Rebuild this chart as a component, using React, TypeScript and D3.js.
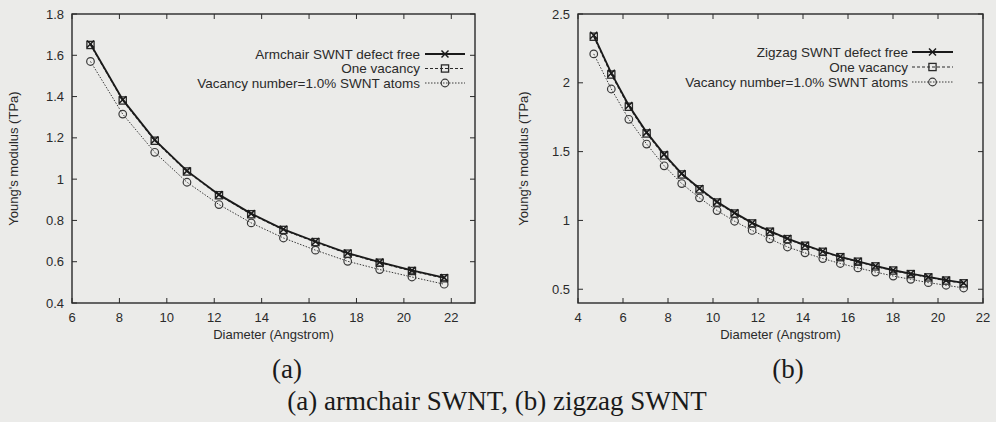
import React from "react";
import * as d3 from "d3";

// ---------- data ----------
const armchairDiameter = [6.78, 8.14, 9.49, 10.85, 12.2, 13.56, 14.92, 16.27, 17.63, 18.98, 20.34, 21.7];
const armchairDefectFree = [1.655, 1.385, 1.19, 1.04, 0.925, 0.833, 0.757, 0.698, 0.642, 0.598, 0.558, 0.523];
const armchairOneVacancy = [1.65, 1.381, 1.186, 1.037, 0.922, 0.83, 0.754, 0.695, 0.639, 0.595, 0.555, 0.52];
const armchairOnePercent = [1.57, 1.315, 1.13, 0.985, 0.877, 0.788, 0.715, 0.656, 0.602, 0.562, 0.526, 0.491];

const zigzagDiameter = [4.7, 5.48, 6.26, 7.05, 7.83, 8.61, 9.4, 10.18, 10.96, 11.74, 12.53, 13.31, 14.09, 14.88, 15.66, 16.44, 17.22, 18.01, 18.79, 19.57, 20.36, 21.14];
const zigzagDefectFree = [2.345, 2.07, 1.835, 1.64, 1.48, 1.34, 1.232, 1.135, 1.055, 0.982, 0.922, 0.868, 0.82, 0.776, 0.736, 0.703, 0.669, 0.638, 0.613, 0.589, 0.566, 0.546];
const zigzagOneVacancy = [2.335, 2.06, 1.826, 1.632, 1.472, 1.334, 1.226, 1.13, 1.05, 0.978, 0.918, 0.864, 0.816, 0.772, 0.733, 0.7, 0.666, 0.636, 0.61, 0.586, 0.563, 0.543];
const zigzagOnePercent = [2.21, 1.955, 1.735, 1.555, 1.397, 1.268, 1.164, 1.072, 0.994, 0.927, 0.866, 0.807, 0.764, 0.723, 0.687, 0.655, 0.625, 0.596, 0.572, 0.548, 0.529, 0.509];

const armchairXTicks = [6, 8, 10, 12, 14, 16, 18, 20, 22];
const armchairYTicks = [0.4, 0.6, 0.8, 1, 1.2, 1.4, 1.6, 1.8];
const zigzagXTicks = [4, 6, 8, 10, 12, 14, 16, 18, 20, 22];
const zigzagYTicks = [0.5, 1, 1.5, 2, 2.5];

const armchairLegend = ["Armchair SWNT defect free", "One vacancy", "Vacancy number=1.0% SWNT atoms"];
const zigzagLegend = ["Zigzag SWNT defect free", "One vacancy", "Vacancy number=1.0% SWNT atoms"];

const xTitle = "Diameter (Angstrom)";
const yTitle = "Young's modulus (TPa)";
const caption = "(a) armchair SWNT, (b) zigzag SWNT";

const SANS = "'Liberation Sans', Arial, sans-serif";
const SERIF = "'Liberation Serif', 'Times New Roman', serif";
const INK = "#2a2a2a";

type Style = { width: number; dash?: string; marker: "cross" | "square" | "circle"; color: string };
const styles: Style[] = [
  { width: 1.8, marker: "cross", color: "#1a1a1a" },
  { width: 1.1, dash: "3,2", marker: "square", color: "#2a2a2a" },
  { width: 1.0, dash: "1.5,1.5", marker: "circle", color: "#3a3a3a" },
];

function Marker({ x, y, kind, color }: { x: number; y: number; kind: string; color: string }) {
  if (kind === "cross") {
    const s = 3.5;
    return (
      <g stroke={color} strokeWidth={1.5}>
        <line x1={x - s} y1={y - s} x2={x + s} y2={y + s} />
        <line x1={x - s} y1={y + s} x2={x + s} y2={y - s} />
      </g>
    );
  }
  if (kind === "square") {
    return <rect x={x - 3.6} y={y - 3.6} width={7.2} height={7.2} fill="none" stroke={color} strokeWidth={1.3} />;
  }
  return <circle cx={x} cy={y} r={3.8} fill="none" stroke={color} strokeWidth={1.2} />;
}

type PanelProps = {
  x0: number; x1: number; y0: number; y1: number;
  xDomain: [number, number]; yDomain: [number, number];
  xTicks: number[]; yTicks: number[];
  xs: number[]; series: number[][];
  legend: string[]; legTextX: number; legLine: [number, number]; legY: number[];
  yTitleX: number;
};

function Panel(p: PanelProps) {
  const xs = d3.scaleLinear().domain(p.xDomain).range([p.x0, p.x1]);
  const ys = d3.scaleLinear().domain(p.yDomain).range([p.y1, p.y0]);
  const tl = 5;
  return (
    <g>
      {/* ticks */}
      <g stroke={INK} strokeWidth={1}>
        {p.xTicks.map((t) => (
          <g key={"xt" + t}>
            <line x1={xs(t)} x2={xs(t)} y1={p.y1} y2={p.y1 - tl} />
            <line x1={xs(t)} x2={xs(t)} y1={p.y0} y2={p.y0 + tl} />
          </g>
        ))}
        {p.yTicks.map((t) => (
          <g key={"yt" + t}>
            <line x1={p.x0} x2={p.x0 + tl} y1={ys(t)} y2={ys(t)} />
            <line x1={p.x1} x2={p.x1 - tl} y1={ys(t)} y2={ys(t)} />
          </g>
        ))}
      </g>
      <g fontFamily={SANS} fontSize={13} fill={INK}>
        {p.xTicks.map((t) => (
          <text key={"xl" + t} x={xs(t)} y={p.y1 + 19} textAnchor="middle">{String(t)}</text>
        ))}
        {p.yTicks.map((t) => (
          <text key={"yl" + t} x={p.x0 - 8} y={ys(t) + 4.5} textAnchor="end">{String(t)}</text>
        ))}
        <text x={(p.x0 + p.x1) / 2} y={p.y1 + 36} textAnchor="middle">{xTitle}</text>
        <text transform={`translate(${p.yTitleX},${(p.y0 + p.y1) / 2}) rotate(-90)`} textAnchor="middle">{yTitle}</text>
      </g>
      {/* series */}
      {[...p.series].reverse().map((vals, ri) => {
        const i = p.series.length - 1 - ri;
        const st = styles[i];
        const line = d3.line<number>().x((_, k) => xs(p.xs[k])).y((v) => ys(v));
        return (
          <g key={"s" + i}>
            <path d={line(vals) || ""} fill="none" stroke={st.color} strokeWidth={st.width} strokeDasharray={st.dash} />
            {vals.map((v, k) => (
              <Marker key={k} x={xs(p.xs[k])} y={ys(v)} kind={st.marker} color={st.color} />
            ))}
          </g>
        );
      })}
      {/* legend */}
      <g fontFamily={SANS} fontSize={13.5} fill={INK}>
        {p.legend.map((label, i) => {
          const st = styles[i];
          const cy = p.legY[i];
          const mx = (p.legLine[0] + p.legLine[1]) / 2;
          return (
            <g key={"lg" + i}>
              <text x={p.legTextX} y={cy + 4.8} textAnchor="end">{label}</text>
              <line x1={p.legLine[0]} x2={p.legLine[1]} y1={cy} y2={cy} stroke={st.color} strokeWidth={st.width} strokeDasharray={st.dash} />
              <Marker x={mx} y={cy} kind={st.marker} color={st.color} />
            </g>
          );
        })}
      </g>
      {/* frame */}
      <rect x={p.x0} y={p.y0} width={p.x1 - p.x0} height={p.y1 - p.y0} fill="none" stroke={INK} strokeWidth={1.4} />
    </g>
  );
}

export default function App() {
  return (
    <svg width={996} height={422} style={{ position: "absolute", left: 0, top: 0, display: "block" }}>
      <rect x={0} y={0} width={996} height={422} fill="#ebebe9" />
      <Panel
        x0={72} x1={475} y0={14} y1={303}
        xDomain={[6, 23]} yDomain={[0.4, 1.8]}
        xTicks={armchairXTicks} yTicks={armchairYTicks}
        xs={armchairDiameter}
        series={[armchairDefectFree, armchairOneVacancy, armchairOnePercent]}
        legend={armchairLegend} legTextX={420} legLine={[425, 465]} legY={[54, 68.5, 83]}
        yTitleX={18}
      />
      <Panel
        x0={578} x1={983} y0={14} y1={303}
        xDomain={[4, 22]} yDomain={[0.4, 2.5]}
        xTicks={zigzagXTicks} yTicks={zigzagYTicks}
        xs={zigzagDiameter}
        series={[zigzagDefectFree, zigzagOneVacancy, zigzagOnePercent]}
        legend={zigzagLegend} legTextX={908} legLine={[912, 953]} legY={[52, 67, 82]}
        yTitleX={528}
      />
      <g fontFamily={SERIF} fontSize={27} fill="#1a1a1a">
        <text x={287} y={378} textAnchor="middle">(a)</text>
        <text x={788} y={378} textAnchor="middle">(b)</text>
        <text x={497} y={410} textAnchor="middle">{caption}</text>
      </g>
    </svg>
  );
}
